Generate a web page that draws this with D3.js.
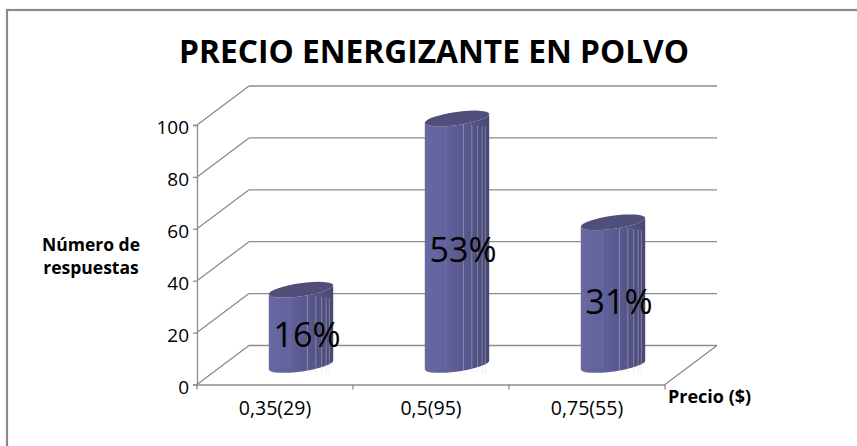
<!DOCTYPE html>
<html>
<head>
<meta charset="utf-8">
<script src="https://cdn.jsdelivr.net/npm/d3@7"></script>
<style>
  body { margin: 0; background: #fff; }
  text { font-family: "Open Sans", sans-serif; fill: #000; }
</style>
</head>
<body>
<svg id="chart" width="857" height="446"></svg>
<script>
// chart data
const categories = ["0,35(29)", "0,5(95)", "0,75(55)"];
const values = [29, 95, 55];
const pctLabels = ["16%", "53%", "31%"];
const yTicks = [0, 20, 40, 60, 80, 100];

const svg = d3.select("#chart");

// frame
svg.append("rect")
    .attr("x", 7).attr("y", 10)
    .attr("width", 900).attr("height", 500)
    .attr("fill", "none")
    .attr("stroke", "#8a8a8a")
    .attr("stroke-width", 2.2);

// title
svg.append("text")
    .attr("x", 434).attr("y", 63)
    .attr("text-anchor", "middle")
    .attr("font-size", 33)
    .attr("font-weight", "bold")
    .attr("textLength", 510)
    .attr("lengthAdjust", "spacingAndGlyphs")
    .text("PRECIO ENERGIZANTE EN POLVO");

let x = d3.scaleBand()
    .domain(categories)
    .range([197, 665]);

let y = d3.scaleLinear()
    .domain([0, 100])
    .range([384.5, 125]);

// depth of the 3d box
const dx = 52, dy = -39;
const gridColor = "#8c8c8c";

let grid = svg.append("g")
    .attr("fill", "none")
    .attr("stroke", gridColor)
    .attr("stroke-width", 1.3);

// back wall lines + side wall diagonals
yTicks.forEach(function (t) {
    grid.append("line")
        .attr("x1", x.range()[0] + dx).attr("x2", x.range()[1] + dx)
        .attr("y1", y(t) + dy).attr("y2", y(t) + dy);
    grid.append("line")
        .attr("x1", x.range()[0]).attr("x2", x.range()[0] + dx)
        .attr("y1", y(t)).attr("y2", y(t) + dy);
});

// floor right edge
grid.append("line")
    .attr("x1", x.range()[1]).attr("x2", x.range()[1] + dx)
    .attr("y1", y(0)).attr("y2", y(0) + dy);

// cylinders
let defs = svg.append("defs");
let grad = defs.append("linearGradient")
    .attr("id", "body")
    .attr("x1", "0").attr("x2", "1").attr("y1", "0").attr("y2", "0");
[["0", "#6868a2"], ["0.35", "#60609a"], ["0.6", "#59598e"], ["0.75", "#545486"],
 ["0.9", "#4d4d7a"], ["1", "#484872"]].forEach(function (s) {
    grad.append("stop").attr("offset", s[0]).attr("stop-color", s[1]);
});

const bw = x.bandwidth() * 0.417;
const rx = bw / 2, ry = 6.5, tilt = -8;
const th = tilt * Math.PI / 180;
const ex = rx * Math.cos(th), ey = rx * Math.sin(th);
const facets = [0.33, 0.6, 0.73, 0.82, 0.89, 0.94];

let bars = svg.append("g")
    .selectAll("g")
    .data(values)
    .enter().append("g");

bars.each(function (d, i) {
    let g = d3.select(this);
    let cx = x(categories[i]) + x.bandwidth() / 2 + dx / 2;
    let yb = y(0) + dy / 2;
    let yt = y(d) + dy / 2;
    let left = cx - ex, right = cx + ex;

    let path = "M" + left + "," + (yt - ey)
        + "L" + left + "," + (yb - ey)
        + "A" + rx + "," + ry + " " + tilt + " 0 0 " + right + "," + (yb + ey)
        + "L" + right + "," + (yt + ey)
        + "A" + rx + "," + ry + " " + tilt + " 0 1 " + left + "," + (yt - ey) + "Z";

    g.append("path")
        .attr("d", path)
        .attr("fill", "url(#body)");

    facets.forEach(function (f, k) {
        let fx = left + f * (right - left);
        let fy = ey * (2 * f - 1);
        g.append("line")
            .attr("x1", fx).attr("x2", fx)
            .attr("y1", yt - fy + ry * 0.6).attr("y2", yb - fy + ry * 0.8)
            .attr("stroke", k == 0 ? "rgba(190,190,225,0.2)" : "rgba(205,205,235,0.5)")
            .attr("stroke-width", 0.8);
    });

    g.append("ellipse")
        .attr("cx", 0).attr("cy", 0)
        .attr("rx", rx).attr("ry", ry)
        .attr("transform", "translate(" + cx + "," + yt + ") rotate(" + tilt + ")")
        .attr("fill", "#4f4f7a");

    g.append("text")
        .attr("x", cx + 6)
        .attr("y", yt + (yb - yt) / 2 + 8)
        .attr("dy", "0.35em")
        .attr("text-anchor", "middle")
        .attr("font-size", 34)
        .text(pctLabels[i]);
});

// y axis
let yAxis = svg.append("g")
    .attr("transform", "translate(" + x.range()[0] + ",0)")
    .call(d3.axisLeft(y).tickValues(yTicks).tickSize(4).tickPadding(4));
yAxis.selectAll("path, line").attr("stroke", gridColor).attr("stroke-width", 1.3);
yAxis.selectAll("text")
    .attr("font-size", 19)
    .attr("font-family", "Open Sans")
    .attr("dy", "0.45em");

// x axis
let xAxis = svg.append("g")
    .attr("transform", "translate(0," + y(0) + ")")
    .call(d3.axisBottom(x).tickSize(0).tickPadding(17));
xAxis.select(".domain").attr("stroke", gridColor).attr("stroke-width", 1.3);
xAxis.selectAll("text")
    .attr("font-size", 19.5)
    .attr("font-family", "Open Sans");
xAxis.selectAll(".sep")
    .data(categories.concat([null]))
    .enter().append("line")
    .attr("class", "sep")
    .attr("x1", (d, i) => x.range()[0] + i * x.step())
    .attr("x2", (d, i) => x.range()[0] + i * x.step())
    .attr("y1", 0).attr("y2", 5)
    .attr("stroke", gridColor)
    .attr("stroke-width", 1.3);

// axis titles
svg.append("text")
    .attr("x", 91).attr("y", 251)
    .attr("text-anchor", "middle")
    .attr("font-size", 17.5)
    .attr("font-weight", "bold")
    .text("Número de");
svg.append("text")
    .attr("x", 91).attr("y", 274)
    .attr("text-anchor", "middle")
    .attr("font-size", 17.5)
    .attr("font-weight", "bold")
    .text("respuestas");

svg.append("text")
    .attr("x", 668).attr("y", 403)
    .attr("font-size", 18)
    .attr("font-weight", "bold")
    .text("Precio ($)");
</script>
</body>
</html>
